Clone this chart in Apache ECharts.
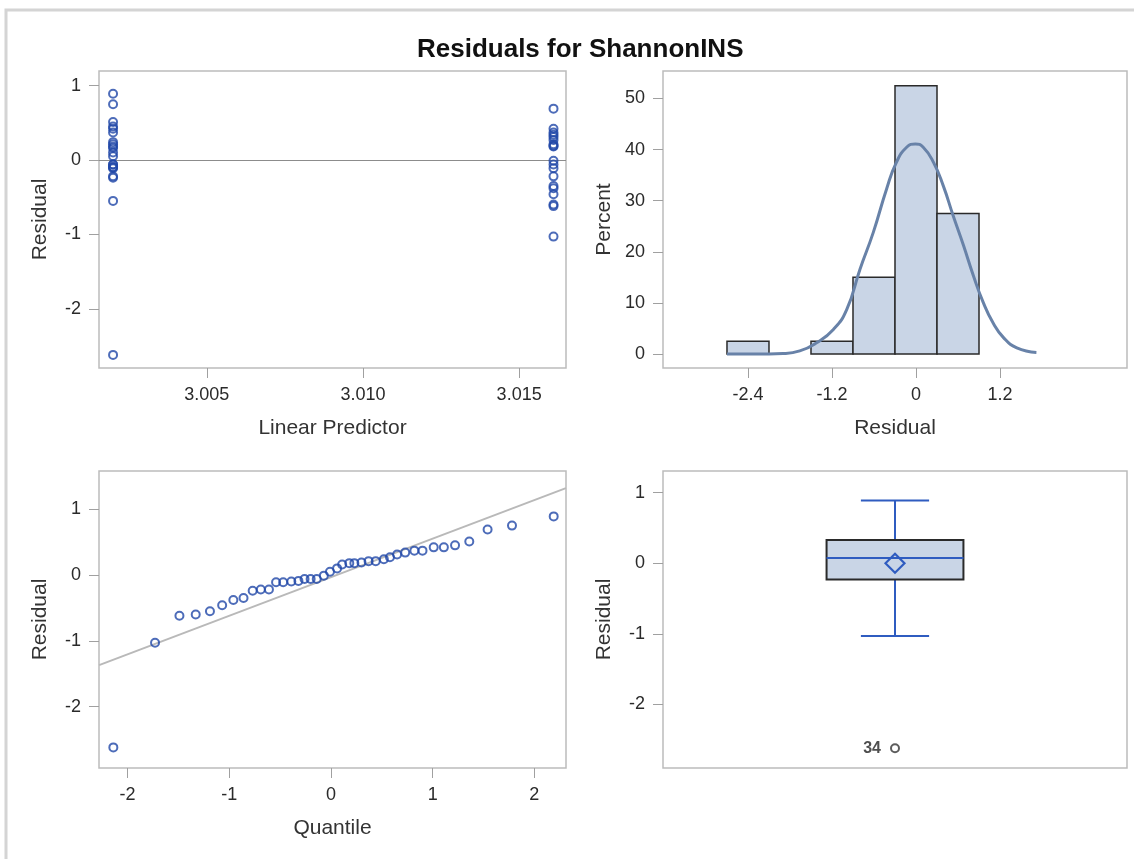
<!DOCTYPE html>
<html><head><meta charset="utf-8">
<script src="https://cdn.jsdelivr.net/npm/echarts@6/dist/echarts.min.js"></script>
<style>html,body{margin:0;padding:0;background:#fff}#c{width:1134px;height:859px}</style>
</head><body><div id="c"></div>
<script>
const chartTitle = 'Residuals for ShannonINS';

// Residual vs linear predictor (two predictor levels)
const predLow = 3.0020;
const predHigh = 3.0161;
const residLow = [-2.62, -0.55, -0.24, -0.22, -0.11, -0.10, -0.09, -0.06, -0.06, 0.05, 0.10, 0.16, 0.18, 0.21, 0.24, 0.37, 0.42, 0.45, 0.51, 0.75, 0.89];
const residHigh = [-1.03, -0.62, -0.60, -0.46, -0.38, -0.35, -0.22, -0.11, -0.06, -0.01, 0.18, 0.19, 0.21, 0.27, 0.31, 0.34, 0.37, 0.42, 0.69];

// Histogram of residuals (percent)
const binLo = [-2.7, -2.1, -1.5, -0.9, -0.3, 0.3];
const binHi = [-2.1, -1.5, -0.9, -0.3, 0.3, 0.9];
const binPct = [2.5, 0, 2.5, 15, 52.5, 27.5];
// Kernel density curve
const densX = [-2.70, -2.30, -1.90, -1.66, -1.42, -1.18, -0.99, -0.80, -0.61, -0.42, -0.28, -0.13, -0.01, 0.10, 0.25, 0.39, 0.53, 0.68, 0.82, 0.96, 1.10, 1.25, 1.44, 1.72];
const densY = [0, 0, 0.1, 0.6, 2.2, 4.8, 8.7, 16.6, 23.8, 32.3, 37.5, 40.5, 41.1, 40.5, 37.5, 32.9, 27.1, 21.2, 15.3, 10.1, 6.1, 3.2, 1.2, 0.3];

// Q-Q plot
const qqQuantiles = [-2.14, -1.73, -1.49, -1.33, -1.19, -1.07, -0.96, -0.86, -0.77, -0.69, -0.61, -0.54, -0.47, -0.39, -0.32, -0.26, -0.20, -0.14, -0.07, -0.01, 0.06, 0.11, 0.18, 0.23, 0.30, 0.37, 0.44, 0.52, 0.58, 0.65, 0.73, 0.82, 0.90, 1.01, 1.11, 1.22, 1.36, 1.54, 1.78, 2.19];
const refLineX = [-2.28, 2.31];
const refLineY = [-1.37, 1.32];

// Box plot: [min whisker, Q1, median, Q3, max whisker]
const boxValues = [-1.03, -0.23, 0.075, 0.33, 0.89];
const boxMean = 0.0;
const outlierValue = -2.62;
const outlierLabel = '34';

// Tick values
const tlXTicks = [3.005, 3.010, 3.015];
const tlYTicks = [-2, -1, 0, 1];
const histXTicks = [-2.4, -1.2, 0, 1.2];
const histYTicks = [0, 10, 20, 30, 40, 50];
const qqXTicks = [-2, -1, 0, 1, 2];
const qqYTicks = [-2, -1, 0, 1];
const boxYTicks = [-2, -1, 0, 1];

const FONT = '"Liberation Sans", Arial, sans-serif';
const MARK = '#2147a8';
const FILL = '#c9d5e6';

const residSorted = residLow.concat(residHigh).sort((a, b) => a - b);

function ax(gridIndex, min, max, ticks, name, nameGap, fmt) {
  return {
    type: 'value', gridIndex, min, max,
    name, nameLocation: 'middle', nameGap,
    nameTextStyle: { fontSize: 21, color: '#333', fontFamily: FONT },
    axisLine: { show: false, onZero: false },
    axisTick: { show: true, length: 10, customValues: ticks, lineStyle: { color: '#a0a0a0', width: 1 } },
    axisLabel: { show: true, customValues: ticks, fontSize: 18, color: '#2a2a2a', fontFamily: FONT, margin: 18, formatter: fmt || (v => String(v)) },
    splitLine: { show: false }
  };
}

const grids = [
  { left: 99, top: 71, width: 467, height: 297 },
  { left: 663, top: 71, width: 464, height: 297 },
  { left: 99, top: 471, width: 467, height: 297 },
  { left: 663, top: 471, width: 464, height: 297 }
].map(g => Object.assign(g, { show: true, borderColor: '#bcbcbc', borderWidth: 1.5, backgroundColor: '#fff', containLabel: false }));

const ringStyle = { color: 'rgba(0,0,0,0)', borderColor: MARK, borderWidth: 2 };

const option = {
  animation: false,
  backgroundColor: '#fff',
  title: { text: chartTitle, left: 412, top: 32, textStyle: { fontSize: 26, fontWeight: 'bold', color: '#111', fontFamily: FONT } },
  graphic: [{ type: 'rect', silent: true, z: -10, shape: { x: 6, y: 10, width: 1200, height: 900 }, style: { fill: 'none', stroke: '#d4d4d4', lineWidth: 3 } }],
  grid: grids,
  xAxis: [
    ax(0, 3.00155, 3.0165, tlXTicks, 'Linear Predictor', 50, v => v.toFixed(3)),
    ax(1, -3.614, 3.014, histXTicks, 'Residual', 50),
    ax(2, -2.281, 2.311, qqXTicks, 'Quantile', 50),
    { type: 'value', gridIndex: 3, min: 0, max: 1, show: false, axisLine: { onZero: false } }
  ],
  yAxis: [
    ax(0, -2.796, 1.196, tlYTicks, 'Residual', 48),
    ax(1, -2.74, 55.38, histYTicks, 'Percent', 48),
    ax(2, -2.933, 1.58, qqYTicks, 'Residual', 48),
    ax(3, -2.90, 1.307, boxYTicks, 'Residual', 48)
  ],
  series: [
    // Top-left
    {
      type: 'scatter', xAxisIndex: 0, yAxisIndex: 0, symbol: 'circle', symbolSize: 8,
      data: residLow.map(r => [predLow, r]).concat(residHigh.map(r => [predHigh, r])),
      itemStyle: ringStyle, z: 5,
      markLine: { silent: true, symbol: 'none', label: { show: false }, lineStyle: { color: '#8c8c8c', width: 1, type: 'solid' }, data: [{ yAxis: 0 }] }
    },
    // Histogram bars
    {
      type: 'custom', xAxisIndex: 1, yAxisIndex: 1, clip: false,
      data: binLo.map((lo, i) => [lo, binHi[i], binPct[i]]),
      encode: { x: [0, 1], y: 2 },
      renderItem: function (params, api) {
        const lo = api.value(0), hi = api.value(1), p = api.value(2);
        if (!p) return null;
        const a = api.coord([lo, p]), b = api.coord([hi, 0]);
        return { type: 'rect', shape: { x: a[0], y: a[1], width: b[0] - a[0], height: b[1] - a[1] }, style: { fill: FILL, stroke: '#2a2a2a', lineWidth: 1.5 } };
      }, z: 2
    },
    // Density curve
    {
      type: 'line', xAxisIndex: 1, yAxisIndex: 1, smooth: true, showSymbol: false, symbol: 'none',
      data: densX.map((x, i) => [x, densY[i]]),
      lineStyle: { color: '#6882a8', width: 3 }, z: 4
    },
    // QQ reference line
    {
      type: 'line', xAxisIndex: 2, yAxisIndex: 2, symbol: 'none',
      data: refLineX.map((x, i) => [x, refLineY[i]]),
      lineStyle: { color: '#b9b9b9', width: 2 }, z: 2
    },
    // QQ points
    {
      type: 'scatter', xAxisIndex: 2, yAxisIndex: 2, symbol: 'circle', symbolSize: 8,
      data: qqQuantiles.map((q, i) => [q, residSorted[i]]),
      itemStyle: ringStyle, z: 5
    },
    // Box plot
    {
      type: 'custom', xAxisIndex: 3, yAxisIndex: 3, clip: false,
      data: [[0.5].concat(boxValues, [boxMean])],
      encode: { x: 0, y: [1, 2, 3, 4, 5] },
      renderItem: function (params, api) {
        const cx = api.value(0);
        const mn = api.value(1), q1 = api.value(2), med = api.value(3), q3 = api.value(4), mx = api.value(5), mean = api.value(6);
        const unit = api.size([1, 0])[0];
        const half = unit * 0.1475, cap = unit * 0.0735;
        const pMin = api.coord([cx, mn]), pQ1 = api.coord([cx, q1]), pMed = api.coord([cx, med]), pQ3 = api.coord([cx, q3]), pMax = api.coord([cx, mx]), pMean = api.coord([cx, mean]);
        const x = pMin[0];
        const blue = { stroke: '#2f5cc0', lineWidth: 2, fill: 'none' };
        const d = 9.5;
        return {
          type: 'group', children: [
            { type: 'line', shape: { x1: x, y1: pQ1[1], x2: x, y2: pMin[1] }, style: blue },
            { type: 'line', shape: { x1: x, y1: pQ3[1], x2: x, y2: pMax[1] }, style: blue },
            { type: 'line', shape: { x1: x - cap, y1: pMin[1], x2: x + cap, y2: pMin[1] }, style: blue },
            { type: 'line', shape: { x1: x - cap, y1: pMax[1], x2: x + cap, y2: pMax[1] }, style: blue },
            { type: 'rect', shape: { x: x - half, y: pQ3[1], width: 2 * half, height: pQ1[1] - pQ3[1] }, style: { fill: FILL, stroke: '#2a2a2a', lineWidth: 2 } },
            { type: 'line', shape: { x1: x - half, y1: pMed[1], x2: x + half, y2: pMed[1] }, style: blue },
            { type: 'polygon', shape: { points: [[x, pMean[1] - d], [x + d, pMean[1]], [x, pMean[1] + d], [x - d, pMean[1]]] }, style: Object.assign({}, blue, { lineWidth: 2.2 }) }
          ]
        };
      }, z: 3
    },
    // Outlier
    {
      type: 'scatter', xAxisIndex: 3, yAxisIndex: 3, symbol: 'circle', symbolSize: 8,
      data: [[0.5, outlierValue]], itemStyle: { color: 'rgba(0,0,0,0)', borderColor: '#333', borderWidth: 2 },
      label: { show: true, position: 'left', distance: 9, formatter: outlierLabel, fontSize: 16, fontWeight: 'bold', color: '#222', fontFamily: FONT },
      z: 5
    }
  ]
};

const chart = echarts.init(document.getElementById('c'), null, { renderer: 'canvas' });
chart.setOption(option);
</script>
</body></html>
